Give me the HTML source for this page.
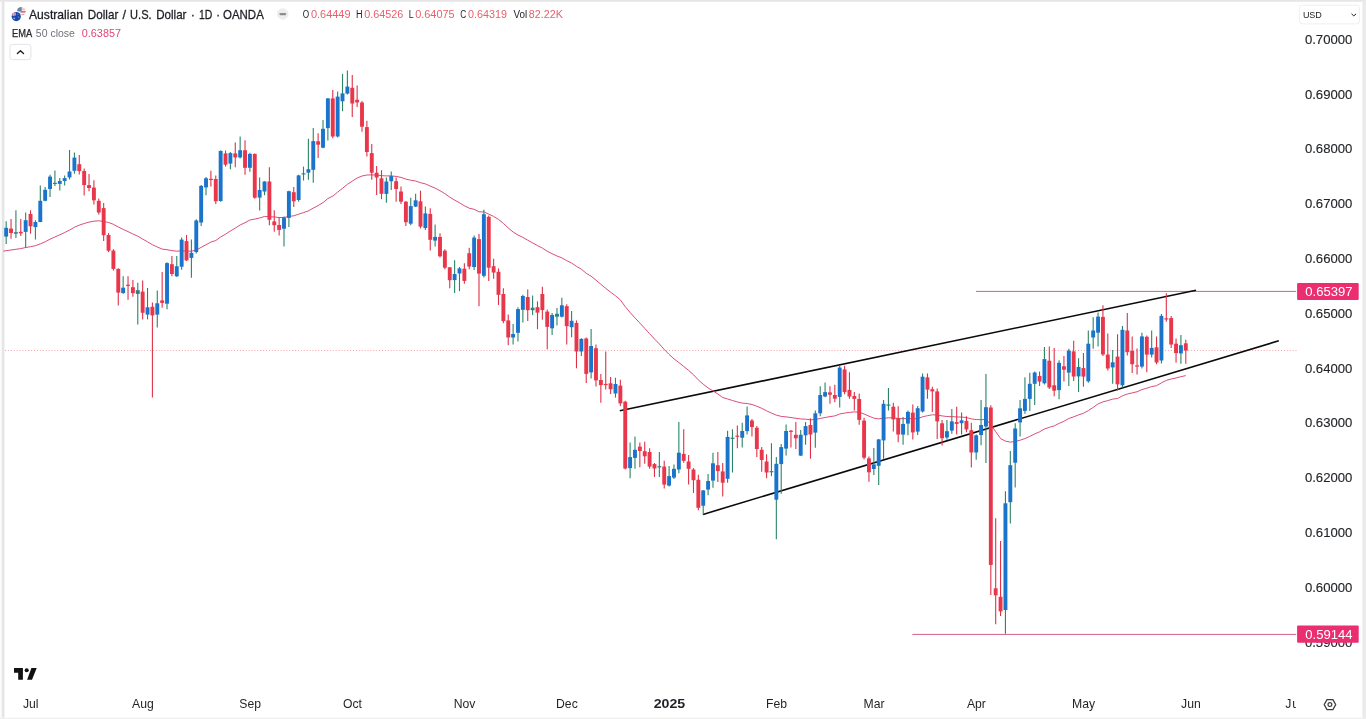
<!DOCTYPE html>
<html><head><meta charset="utf-8"><title>AUDUSD chart</title>
<style>
html,body{margin:0;padding:0;background:#fff;}
body{width:1366px;height:719px;overflow:hidden;position:relative;font-family:"Liberation Sans",sans-serif;}
svg{position:absolute;left:0;top:0;}
svg text{font-family:"Liberation Sans",sans-serif;}
</style></head><body>
<svg width="1366" height="719" viewBox="0 0 1366 719">
<rect x="0" y="0" width="1366" height="719" fill="#fff"/>
<!-- frame -->
<rect x="0" y="0" width="1366" height="1.8" fill="#e6e6e6"/>
<rect x="1.6" y="1.8" width="2.5" height="716" fill="#e5e5e5"/>
<rect x="4.1" y="1.8" width="0.8" height="716" fill="#f2f2f2"/>
<rect x="0" y="1.8" width="1.6" height="716" fill="#fbfbfb"/>
<rect x="1362.3" y="1.8" width="3.7" height="717.2" fill="#ebebeb"/>
<rect x="0" y="717.8" width="1366" height="1.2" fill="#efefef"/>
<!-- current price dotted -->
<line x1="5" x2="1296.5" y1="350.5" y2="350.5" stroke="#f19aa5" stroke-width="0.9" stroke-dasharray="1 1.9"/>
<!-- drawings -->
<line x1="912.4" x2="1296.2" y1="634.4" y2="634.4" stroke="#cf4d79" stroke-width="0.9"/>
<line x1="976" x2="1296.2" y1="291.4" y2="291.4" stroke="#cf4d79" stroke-width="0.9"/>
<line x1="619.8" y1="410.8" x2="1196" y2="290.3" stroke="#0a0a0a" stroke-width="1.6"/>
<line x1="703" y1="514.4" x2="1278.8" y2="340.8" stroke="#0a0a0a" stroke-width="1.6"/>
<path d="M3.4 251.1 L6.2 250.7 L11.0 250.0 L15.9 249.3 L20.8 248.6 L25.7 247.5 L30.5 246.7 L35.4 245.7 L40.3 243.9 L45.2 241.8 L50.0 239.2 L54.9 237.0 L59.8 234.8 L64.7 232.5 L69.5 230.1 L74.4 227.3 L79.3 225.1 L84.2 223.5 L89.0 222.1 L93.9 221.2 L98.8 220.8 L103.7 221.4 L108.5 222.5 L113.4 224.3 L118.3 227.0 L123.2 229.4 L128.0 231.6 L132.9 234.0 L137.8 236.2 L142.7 239.1 L147.5 241.8 L152.4 244.7 L157.3 247.0 L162.2 249.1 L167.0 249.7 L171.9 250.6 L176.8 251.2 L181.6 250.8 L186.5 251.1 L191.4 251.2 L196.3 250.0 L201.1 247.4 L206.0 244.7 L210.9 242.1 L215.8 240.5 L220.6 237.0 L225.5 234.2 L230.4 231.0 L235.3 228.1 L240.1 225.0 L245.0 222.7 L249.9 220.0 L254.8 219.1 L259.6 218.0 L264.5 216.5 L269.4 216.7 L274.3 217.0 L279.1 217.5 L284.0 217.5 L288.9 216.4 L293.8 215.8 L298.6 214.2 L303.5 212.6 L308.4 210.9 L313.3 208.1 L318.1 205.6 L323.0 202.6 L327.9 198.5 L332.8 196.1 L337.6 192.2 L342.5 188.3 L347.4 184.3 L352.3 181.1 L357.1 178.0 L362.0 176.0 L366.9 175.0 L371.8 174.9 L376.6 175.0 L381.5 175.7 L386.4 175.9 L391.3 175.9 L396.1 176.4 L401.0 177.4 L405.9 179.1 L410.7 180.2 L415.6 181.0 L420.5 182.7 L425.4 183.9 L430.2 186.1 L435.1 188.1 L440.0 190.7 L444.9 193.7 L449.7 197.1 L454.6 200.1 L459.5 202.8 L464.4 205.8 L469.2 208.2 L474.1 209.3 L479.0 211.8 L483.9 211.9 L488.7 214.1 L493.6 216.4 L498.5 219.4 L503.4 223.4 L508.2 227.9 L513.1 232.0 L518.0 235.0 L522.9 237.4 L527.7 240.2 L532.6 242.9 L537.5 245.6 L542.4 248.1 L547.2 251.2 L552.1 253.7 L557.0 256.0 L561.9 257.9 L566.7 260.6 L571.6 263.0 L576.5 266.4 L581.4 269.2 L586.2 273.3 L591.1 276.2 L596.0 280.2 L600.9 284.3 L605.7 288.3 L610.6 292.2 L615.5 295.8 L620.4 300.0 L625.2 306.6 L630.1 312.5 L635.0 317.9 L639.9 323.1 L644.7 328.3 L649.6 333.7 L654.5 339.0 L659.3 343.9 L664.2 349.4 L669.1 354.4 L674.0 358.9 L678.8 362.5 L683.7 366.4 L688.6 370.4 L693.5 374.7 L698.3 379.9 L703.2 384.2 L708.1 388.0 L713.0 390.9 L717.8 394.0 L722.7 397.5 L727.6 399.0 L732.5 400.5 L737.3 401.9 L742.2 403.1 L747.1 403.5 L752.0 404.5 L756.8 406.2 L761.7 408.3 L766.6 410.8 L771.5 413.1 L776.3 415.1 L781.2 416.4 L786.1 416.9 L791.0 417.5 L795.8 418.3 L800.7 418.9 L805.6 419.2 L810.5 419.8 L815.3 419.5 L820.2 418.5 L825.1 417.5 L830.0 416.6 L834.8 415.9 L839.7 414.0 L844.6 413.1 L849.5 412.4 L854.3 411.9 L859.2 412.2 L864.1 414.0 L869.0 416.2 L873.8 418.1 L878.7 418.9 L883.6 418.3 L888.5 417.8 L893.3 417.8 L898.2 418.5 L903.1 418.7 L907.9 418.4 L912.8 418.9 L917.7 418.5 L922.6 416.8 L927.4 415.7 L932.3 414.8 L937.2 415.0 L942.1 415.9 L946.9 416.5 L951.8 416.7 L956.7 416.9 L961.6 417.1 L966.4 417.5 L971.3 418.9 L976.2 419.5 L981.1 419.7 L985.9 419.2 L990.8 424.9 L995.7 431.6 L1000.6 438.6 L1005.4 441.1 L1010.3 442.1 L1015.2 441.5 L1020.1 440.2 L1024.9 438.6 L1029.8 436.4 L1034.7 433.9 L1039.6 431.8 L1044.4 429.0 L1049.3 427.3 L1054.2 425.9 L1059.1 423.4 L1063.9 421.3 L1068.8 418.5 L1073.7 416.8 L1078.6 414.9 L1083.4 413.3 L1088.3 410.6 L1093.2 407.4 L1098.1 403.9 L1102.9 401.9 L1107.8 400.6 L1112.7 399.1 L1117.6 398.5 L1122.4 395.8 L1127.3 394.0 L1132.2 392.9 L1137.0 391.8 L1141.9 389.6 L1146.8 388.2 L1151.7 386.6 L1156.5 385.7 L1161.4 382.9 L1166.3 380.4 L1171.2 379.0 L1176.0 378.0 L1180.9 376.7 L1185.8 375.6" fill="none" stroke="#d8456e" stroke-width="0.95" stroke-linejoin="round"/>
<g stroke-width="1.1"><line x1="6.17" x2="6.17" y1="221.3" y2="244.0" stroke="#2a8468"/><line x1="11.04" x2="11.04" y1="219.1" y2="238.8" stroke="#e03048"/><line x1="15.92" x2="15.92" y1="210.3" y2="238.1" stroke="#2a8468"/><line x1="20.79" x2="20.79" y1="219.1" y2="235.9" stroke="#e03048"/><line x1="25.66" x2="25.66" y1="212.5" y2="247.7" stroke="#2a8468"/><line x1="30.54" x2="30.54" y1="210.3" y2="233.7" stroke="#e03048"/><line x1="35.41" x2="35.41" y1="220.2" y2="239.6" stroke="#2a8468"/><line x1="40.29" x2="40.29" y1="185.4" y2="222.3" stroke="#2a8468"/><line x1="45.16" x2="45.16" y1="186.9" y2="201.2" stroke="#2a8468"/><line x1="50.04" x2="50.04" y1="174.8" y2="197.1" stroke="#2a8468"/><line x1="54.91" x2="54.91" y1="170.5" y2="186.1" stroke="#2a8468"/><line x1="59.79" x2="59.79" y1="178.1" y2="190.5" stroke="#2a8468"/><line x1="64.66" x2="64.66" y1="175.6" y2="185.4" stroke="#2a8468"/><line x1="69.53" x2="69.53" y1="150.0" y2="179.5" stroke="#2a8468"/><line x1="74.41" x2="74.41" y1="152.4" y2="173.7" stroke="#2a8468"/><line x1="79.28" x2="79.28" y1="155.1" y2="174.4" stroke="#e03048"/><line x1="84.16" x2="84.16" y1="168.6" y2="195.6" stroke="#e03048"/><line x1="89.03" x2="89.03" y1="174.1" y2="191.2" stroke="#e03048"/><line x1="93.91" x2="93.91" y1="180.3" y2="204.4" stroke="#e03048"/><line x1="98.78" x2="98.78" y1="198.6" y2="214.4" stroke="#e03048"/><line x1="103.66" x2="103.66" y1="203.0" y2="241.0" stroke="#e03048"/><line x1="108.53" x2="108.53" y1="233.1" y2="252.1" stroke="#e03048"/><line x1="113.41" x2="113.41" y1="249.2" y2="270.4" stroke="#e03048"/><line x1="118.28" x2="118.28" y1="268.2" y2="305.5" stroke="#e03048"/><line x1="123.15" x2="123.15" y1="276.2" y2="293.8" stroke="#2a8468"/><line x1="128.03" x2="128.03" y1="276.2" y2="299.7" stroke="#e03048"/><line x1="132.90" x2="132.90" y1="279.9" y2="296.7" stroke="#e03048"/><line x1="137.78" x2="137.78" y1="282.8" y2="324.6" stroke="#2a8468"/><line x1="142.65" x2="142.65" y1="280.6" y2="319.4" stroke="#e03048"/><line x1="147.53" x2="147.53" y1="288.0" y2="319.4" stroke="#2a8468"/><line x1="152.40" x2="152.40" y1="302.6" y2="397.4" stroke="#e03048"/><line x1="157.28" x2="157.28" y1="290.6" y2="327.5" stroke="#2a8468"/><line x1="162.15" x2="162.15" y1="272.1" y2="307.7" stroke="#e03048"/><line x1="167.02" x2="167.02" y1="262.3" y2="309.2" stroke="#2a8468"/><line x1="171.90" x2="171.90" y1="256.0" y2="276.2" stroke="#e03048"/><line x1="176.77" x2="176.77" y1="256.0" y2="277.0" stroke="#2a8468"/><line x1="181.65" x2="181.65" y1="237.4" y2="269.7" stroke="#2a8468"/><line x1="186.52" x2="186.52" y1="235.0" y2="260.9" stroke="#e03048"/><line x1="191.40" x2="191.40" y1="239.6" y2="277.7" stroke="#2a8468"/><line x1="196.27" x2="196.27" y1="219.3" y2="253.6" stroke="#2a8468"/><line x1="201.15" x2="201.15" y1="184.9" y2="225.9" stroke="#2a8468"/><line x1="206.02" x2="206.02" y1="176.9" y2="195.2" stroke="#2a8468"/><line x1="210.90" x2="210.90" y1="170.7" y2="186.4" stroke="#e03048"/><line x1="215.77" x2="215.77" y1="175.4" y2="203.9" stroke="#e03048"/><line x1="220.64" x2="220.64" y1="150.5" y2="201.7" stroke="#2a8468"/><line x1="225.52" x2="225.52" y1="150.5" y2="166.6" stroke="#e03048"/><line x1="230.39" x2="230.39" y1="152.0" y2="169.2" stroke="#2a8468"/><line x1="235.27" x2="235.27" y1="142.4" y2="167.3" stroke="#e03048"/><line x1="240.14" x2="240.14" y1="136.6" y2="158.6" stroke="#2a8468"/><line x1="245.02" x2="245.02" y1="140.2" y2="174.7" stroke="#e03048"/><line x1="249.89" x2="249.89" y1="152.7" y2="171.7" stroke="#2a8468"/><line x1="254.77" x2="254.77" y1="153.4" y2="198.8" stroke="#e03048"/><line x1="259.64" x2="259.64" y1="177.6" y2="210.5" stroke="#2a8468"/><line x1="264.51" x2="264.51" y1="181.2" y2="195.2" stroke="#2a8468"/><line x1="269.39" x2="269.39" y1="167.3" y2="225.3" stroke="#e03048"/><line x1="274.26" x2="274.26" y1="210.2" y2="231.8" stroke="#e03048"/><line x1="279.14" x2="279.14" y1="217.6" y2="235.5" stroke="#e03048"/><line x1="284.01" x2="284.01" y1="216.4" y2="246.5" stroke="#2a8468"/><line x1="288.89" x2="288.89" y1="190.8" y2="227.1" stroke="#2a8468"/><line x1="293.76" x2="293.76" y1="187.1" y2="206.9" stroke="#e03048"/><line x1="298.64" x2="298.64" y1="174.7" y2="201.7" stroke="#2a8468"/><line x1="303.51" x2="303.51" y1="166.6" y2="180.5" stroke="#2a8468"/><line x1="308.38" x2="308.38" y1="138.8" y2="179.8" stroke="#2a8468"/><line x1="313.26" x2="313.26" y1="128.1" y2="182.7" stroke="#2a8468"/><line x1="318.13" x2="318.13" y1="133.2" y2="158.1" stroke="#e03048"/><line x1="323.01" x2="323.01" y1="120.0" y2="148.3" stroke="#2a8468"/><line x1="327.88" x2="327.88" y1="98.1" y2="140.5" stroke="#2a8468"/><line x1="332.76" x2="332.76" y1="90.0" y2="138.3" stroke="#e03048"/><line x1="337.63" x2="337.63" y1="91.5" y2="137.6" stroke="#2a8468"/><line x1="342.51" x2="342.51" y1="73.9" y2="111.2" stroke="#2a8468"/><line x1="347.38" x2="347.38" y1="70.5" y2="94.4" stroke="#2a8468"/><line x1="352.26" x2="352.26" y1="75.1" y2="117.1" stroke="#e03048"/><line x1="357.13" x2="357.13" y1="85.6" y2="106.9" stroke="#e03048"/><line x1="362.00" x2="362.00" y1="101.0" y2="131.7" stroke="#e03048"/><line x1="366.88" x2="366.88" y1="120.8" y2="156.6" stroke="#e03048"/><line x1="371.75" x2="371.75" y1="143.9" y2="179.8" stroke="#e03048"/><line x1="376.63" x2="376.63" y1="165.9" y2="195.1" stroke="#e03048"/><line x1="381.50" x2="381.50" y1="170.2" y2="199.2" stroke="#e03048"/><line x1="386.38" x2="386.38" y1="177.6" y2="202.8" stroke="#2a8468"/><line x1="391.25" x2="391.25" y1="171.4" y2="190.0" stroke="#2a8468"/><line x1="396.13" x2="396.13" y1="177.6" y2="201.7" stroke="#e03048"/><line x1="401.00" x2="401.00" y1="186.4" y2="203.9" stroke="#e03048"/><line x1="405.88" x2="405.88" y1="201.0" y2="225.9" stroke="#e03048"/><line x1="410.75" x2="410.75" y1="197.8" y2="225.2" stroke="#2a8468"/><line x1="415.62" x2="415.62" y1="193.7" y2="206.9" stroke="#2a8468"/><line x1="420.50" x2="420.50" y1="190.7" y2="228.5" stroke="#e03048"/><line x1="425.37" x2="425.37" y1="206.6" y2="230.0" stroke="#2a8468"/><line x1="430.25" x2="430.25" y1="208.3" y2="250.5" stroke="#e03048"/><line x1="435.12" x2="435.12" y1="224.4" y2="246.4" stroke="#2a8468"/><line x1="440.00" x2="440.00" y1="233.2" y2="257.4" stroke="#e03048"/><line x1="444.87" x2="444.87" y1="249.3" y2="269.2" stroke="#e03048"/><line x1="449.75" x2="449.75" y1="267.0" y2="288.2" stroke="#e03048"/><line x1="454.62" x2="454.62" y1="260.3" y2="293.0" stroke="#2a8468"/><line x1="459.49" x2="459.49" y1="267.0" y2="291.1" stroke="#2a8468"/><line x1="464.37" x2="464.37" y1="263.3" y2="283.8" stroke="#e03048"/><line x1="469.24" x2="469.24" y1="247.8" y2="269.2" stroke="#e03048"/><line x1="474.12" x2="474.12" y1="235.4" y2="269.9" stroke="#2a8468"/><line x1="478.99" x2="478.99" y1="233.9" y2="306.2" stroke="#e03048"/><line x1="483.87" x2="483.87" y1="209.8" y2="277.5" stroke="#2a8468"/><line x1="488.74" x2="488.74" y1="215.6" y2="280.9" stroke="#e03048"/><line x1="493.62" x2="493.62" y1="258.8" y2="278.7" stroke="#e03048"/><line x1="498.49" x2="498.49" y1="268.4" y2="305.0" stroke="#e03048"/><line x1="503.37" x2="503.37" y1="288.2" y2="323.3" stroke="#e03048"/><line x1="508.24" x2="508.24" y1="314.5" y2="345.3" stroke="#e03048"/><line x1="513.11" x2="513.11" y1="324.1" y2="344.6" stroke="#2a8468"/><line x1="517.99" x2="517.99" y1="307.2" y2="341.6" stroke="#2a8468"/><line x1="522.86" x2="522.86" y1="294.8" y2="322.6" stroke="#2a8468"/><line x1="527.74" x2="527.74" y1="289.4" y2="321.1" stroke="#e03048"/><line x1="532.61" x2="532.61" y1="295.5" y2="315.0" stroke="#2a8468"/><line x1="537.49" x2="537.49" y1="301.4" y2="329.2" stroke="#e03048"/><line x1="542.36" x2="542.36" y1="286.7" y2="319.7" stroke="#e03048"/><line x1="547.24" x2="547.24" y1="309.4" y2="349.3" stroke="#e03048"/><line x1="552.11" x2="552.11" y1="313.1" y2="335.0" stroke="#2a8468"/><line x1="556.98" x2="556.98" y1="308.0" y2="325.5" stroke="#2a8468"/><line x1="561.86" x2="561.86" y1="297.7" y2="317.5" stroke="#2a8468"/><line x1="566.73" x2="566.73" y1="304.3" y2="344.6" stroke="#e03048"/><line x1="571.61" x2="571.61" y1="310.9" y2="337.2" stroke="#2a8468"/><line x1="576.48" x2="576.48" y1="320.4" y2="368.3" stroke="#e03048"/><line x1="581.36" x2="581.36" y1="338.3" y2="355.9" stroke="#2a8468"/><line x1="586.23" x2="586.23" y1="337.6" y2="383.0" stroke="#e03048"/><line x1="591.11" x2="591.11" y1="329.1" y2="378.6" stroke="#2a8468"/><line x1="595.98" x2="595.98" y1="344.6" y2="386.6" stroke="#e03048"/><line x1="600.86" x2="600.86" y1="373.9" y2="402.7" stroke="#e03048"/><line x1="605.73" x2="605.73" y1="351.5" y2="389.5" stroke="#e03048"/><line x1="610.60" x2="610.60" y1="377.1" y2="393.9" stroke="#e03048"/><line x1="615.48" x2="615.48" y1="377.8" y2="397.6" stroke="#2a8468"/><line x1="620.35" x2="620.35" y1="379.7" y2="405.9" stroke="#e03048"/><line x1="625.23" x2="625.23" y1="400.7" y2="469.5" stroke="#e03048"/><line x1="630.10" x2="630.10" y1="442.5" y2="478.3" stroke="#2a8468"/><line x1="634.98" x2="634.98" y1="436.6" y2="468.8" stroke="#2a8468"/><line x1="639.85" x2="639.85" y1="442.5" y2="467.3" stroke="#e03048"/><line x1="644.73" x2="644.73" y1="441.7" y2="463.7" stroke="#e03048"/><line x1="649.60" x2="649.60" y1="448.3" y2="468.8" stroke="#e03048"/><line x1="654.47" x2="654.47" y1="463.0" y2="476.9" stroke="#e03048"/><line x1="659.35" x2="659.35" y1="452.0" y2="476.9" stroke="#2a8468"/><line x1="664.22" x2="664.22" y1="460.8" y2="488.6" stroke="#e03048"/><line x1="669.10" x2="669.10" y1="465.9" y2="486.4" stroke="#2a8468"/><line x1="673.97" x2="673.97" y1="464.4" y2="479.1" stroke="#2a8468"/><line x1="678.85" x2="678.85" y1="422.0" y2="473.2" stroke="#2a8468"/><line x1="683.72" x2="683.72" y1="429.3" y2="462.7" stroke="#e03048"/><line x1="688.60" x2="688.60" y1="454.9" y2="484.6" stroke="#e03048"/><line x1="693.47" x2="693.47" y1="468.1" y2="493.0" stroke="#e03048"/><line x1="698.35" x2="698.35" y1="474.7" y2="510.3" stroke="#e03048"/><line x1="703.22" x2="703.22" y1="490.0" y2="514.4" stroke="#2a8468"/><line x1="708.09" x2="708.09" y1="473.9" y2="495.2" stroke="#2a8468"/><line x1="712.97" x2="712.97" y1="452.7" y2="487.8" stroke="#2a8468"/><line x1="717.84" x2="717.84" y1="452.0" y2="482.0" stroke="#e03048"/><line x1="722.72" x2="722.72" y1="463.0" y2="496.6" stroke="#e03048"/><line x1="727.59" x2="727.59" y1="430.7" y2="482.7" stroke="#2a8468"/><line x1="732.47" x2="732.47" y1="429.3" y2="472.5" stroke="#2a8468"/><line x1="737.34" x2="737.34" y1="425.6" y2="448.3" stroke="#e03048"/><line x1="742.22" x2="742.22" y1="422.7" y2="447.6" stroke="#2a8468"/><line x1="747.09" x2="747.09" y1="406.6" y2="434.4" stroke="#2a8468"/><line x1="751.96" x2="751.96" y1="419.0" y2="436.6" stroke="#e03048"/><line x1="756.84" x2="756.84" y1="426.1" y2="457.1" stroke="#e03048"/><line x1="761.71" x2="761.71" y1="446.9" y2="471.7" stroke="#e03048"/><line x1="766.59" x2="766.59" y1="454.2" y2="478.3" stroke="#e03048"/><line x1="771.46" x2="771.46" y1="443.2" y2="476.1" stroke="#2a8468"/><line x1="776.34" x2="776.34" y1="457.1" y2="539.3" stroke="#2a8468"/><line x1="781.21" x2="781.21" y1="443.9" y2="493.7" stroke="#2a8468"/><line x1="786.09" x2="786.09" y1="424.6" y2="455.6" stroke="#2a8468"/><line x1="790.96" x2="790.96" y1="430.0" y2="447.6" stroke="#e03048"/><line x1="795.84" x2="795.84" y1="422.0" y2="449.0" stroke="#e03048"/><line x1="800.71" x2="800.71" y1="430.0" y2="455.9" stroke="#2a8468"/><line x1="805.58" x2="805.58" y1="422.0" y2="444.7" stroke="#2a8468"/><line x1="810.46" x2="810.46" y1="418.4" y2="458.7" stroke="#e03048"/><line x1="815.33" x2="815.33" y1="410.4" y2="447.7" stroke="#2a8468"/><line x1="820.21" x2="820.21" y1="386.2" y2="416.2" stroke="#2a8468"/><line x1="825.08" x2="825.08" y1="382.6" y2="397.2" stroke="#2a8468"/><line x1="829.96" x2="829.96" y1="386.2" y2="403.8" stroke="#e03048"/><line x1="834.83" x2="834.83" y1="384.8" y2="402.3" stroke="#e03048"/><line x1="839.71" x2="839.71" y1="365.7" y2="407.5" stroke="#2a8468"/><line x1="844.58" x2="844.58" y1="365.7" y2="394.3" stroke="#e03048"/><line x1="849.45" x2="849.45" y1="372.3" y2="398.7" stroke="#e03048"/><line x1="854.33" x2="854.33" y1="392.1" y2="410.4" stroke="#e03048"/><line x1="859.20" x2="859.20" y1="393.6" y2="424.7" stroke="#e03048"/><line x1="864.08" x2="864.08" y1="417.7" y2="459.4" stroke="#e03048"/><line x1="868.95" x2="868.95" y1="456.5" y2="481.7" stroke="#e03048"/><line x1="873.83" x2="873.83" y1="448.1" y2="475.1" stroke="#2a8468"/><line x1="878.70" x2="878.70" y1="438.9" y2="485.1" stroke="#2a8468"/><line x1="883.58" x2="883.58" y1="400.1" y2="458.7" stroke="#2a8468"/><line x1="888.45" x2="888.45" y1="388.1" y2="410.4" stroke="#2a8468"/><line x1="893.33" x2="893.33" y1="402.8" y2="431.6" stroke="#e03048"/><line x1="898.20" x2="898.20" y1="406.3" y2="442.3" stroke="#e03048"/><line x1="903.07" x2="903.07" y1="417.0" y2="444.8" stroke="#2a8468"/><line x1="907.95" x2="907.95" y1="410.4" y2="435.3" stroke="#2a8468"/><line x1="912.82" x2="912.82" y1="404.5" y2="439.4" stroke="#e03048"/><line x1="917.70" x2="917.70" y1="406.0" y2="435.0" stroke="#2a8468"/><line x1="922.57" x2="922.57" y1="373.5" y2="412.6" stroke="#2a8468"/><line x1="927.45" x2="927.45" y1="373.5" y2="398.7" stroke="#e03048"/><line x1="932.32" x2="932.32" y1="386.7" y2="411.9" stroke="#e03048"/><line x1="937.20" x2="937.20" y1="388.4" y2="438.9" stroke="#e03048"/><line x1="942.07" x2="942.07" y1="419.9" y2="445.5" stroke="#e03048"/><line x1="946.94" x2="946.94" y1="419.9" y2="439.7" stroke="#2a8468"/><line x1="951.82" x2="951.82" y1="408.9" y2="433.8" stroke="#2a8468"/><line x1="956.69" x2="956.69" y1="406.7" y2="434.5" stroke="#e03048"/><line x1="961.57" x2="961.57" y1="412.6" y2="434.5" stroke="#2a8468"/><line x1="966.44" x2="966.44" y1="416.2" y2="432.3" stroke="#e03048"/><line x1="971.32" x2="971.32" y1="422.8" y2="467.5" stroke="#e03048"/><line x1="976.19" x2="976.19" y1="434.5" y2="459.8" stroke="#2a8468"/><line x1="981.07" x2="981.07" y1="400.1" y2="445.2" stroke="#2a8468"/><line x1="985.94" x2="985.94" y1="374.1" y2="463.1" stroke="#2a8468"/><line x1="990.82" x2="990.82" y1="405.3" y2="594.9" stroke="#e03048"/><line x1="995.69" x2="995.69" y1="518.3" y2="624.2" stroke="#e03048"/><line x1="1000.56" x2="1000.56" y1="541.0" y2="616.1" stroke="#e03048"/><line x1="1005.44" x2="1005.44" y1="491.2" y2="633.7" stroke="#2a8468"/><line x1="1010.31" x2="1010.31" y1="451.0" y2="523.5" stroke="#2a8468"/><line x1="1015.19" x2="1015.19" y1="423.3" y2="487.6" stroke="#2a8468"/><line x1="1020.06" x2="1020.06" y1="399.9" y2="436.5" stroke="#2a8468"/><line x1="1024.94" x2="1024.94" y1="377.2" y2="413.8" stroke="#2a8468"/><line x1="1029.81" x2="1029.81" y1="372.8" y2="410.9" stroke="#2a8468"/><line x1="1034.69" x2="1034.69" y1="371.4" y2="405.0" stroke="#2a8468"/><line x1="1039.56" x2="1039.56" y1="371.4" y2="386.0" stroke="#e03048"/><line x1="1044.43" x2="1044.43" y1="347.1" y2="384.5" stroke="#2a8468"/><line x1="1049.31" x2="1049.31" y1="346.6" y2="388.9" stroke="#e03048"/><line x1="1054.18" x2="1054.18" y1="348.1" y2="396.2" stroke="#e03048"/><line x1="1059.06" x2="1059.06" y1="360.2" y2="399.2" stroke="#2a8468"/><line x1="1063.93" x2="1063.93" y1="356.1" y2="381.6" stroke="#e03048"/><line x1="1068.81" x2="1068.81" y1="348.7" y2="386.0" stroke="#2a8468"/><line x1="1073.68" x2="1073.68" y1="340.8" y2="381.0" stroke="#e03048"/><line x1="1078.56" x2="1078.56" y1="358.2" y2="391.9" stroke="#2a8468"/><line x1="1083.43" x2="1083.43" y1="353.1" y2="386.7" stroke="#e03048"/><line x1="1088.31" x2="1088.31" y1="330.5" y2="382.8" stroke="#2a8468"/><line x1="1093.18" x2="1093.18" y1="317.3" y2="348.8" stroke="#2a8468"/><line x1="1098.05" x2="1098.05" y1="312.5" y2="346.6" stroke="#2a8468"/><line x1="1102.93" x2="1102.93" y1="305.2" y2="356.1" stroke="#e03048"/><line x1="1107.80" x2="1107.80" y1="333.4" y2="370.6" stroke="#e03048"/><line x1="1112.68" x2="1112.68" y1="350.1" y2="383.8" stroke="#2a8468"/><line x1="1117.55" x2="1117.55" y1="334.2" y2="390.4" stroke="#e03048"/><line x1="1122.43" x2="1122.43" y1="326.1" y2="387.5" stroke="#2a8468"/><line x1="1127.30" x2="1127.30" y1="312.9" y2="355.4" stroke="#e03048"/><line x1="1132.18" x2="1132.18" y1="336.4" y2="373.0" stroke="#e03048"/><line x1="1137.05" x2="1137.05" y1="348.5" y2="374.4" stroke="#e03048"/><line x1="1141.92" x2="1141.92" y1="332.7" y2="368.6" stroke="#2a8468"/><line x1="1146.80" x2="1146.80" y1="335.6" y2="372.2" stroke="#e03048"/><line x1="1151.67" x2="1151.67" y1="330.5" y2="357.6" stroke="#2a8468"/><line x1="1156.55" x2="1156.55" y1="336.4" y2="364.2" stroke="#e03048"/><line x1="1161.42" x2="1161.42" y1="314.0" y2="363.5" stroke="#2a8468"/><line x1="1166.30" x2="1166.30" y1="293.2" y2="321.7" stroke="#e03048"/><line x1="1171.17" x2="1171.17" y1="315.9" y2="348.1" stroke="#e03048"/><line x1="1176.05" x2="1176.05" y1="338.6" y2="362.7" stroke="#e03048"/><line x1="1180.92" x2="1180.92" y1="334.9" y2="363.7" stroke="#2a8468"/><line x1="1185.80" x2="1185.80" y1="339.7" y2="363.7" stroke="#e03048"/></g><g><rect x="4.22" y="227.8" width="3.9" height="8.8" fill="#1b74cc"/><rect x="9.09" y="228.6" width="3.9" height="4.4" fill="#e8364a"/><rect x="13.97" y="232.2" width="3.9" height="1.5" fill="#2f7f8a"/><rect x="18.84" y="231.8" width="3.9" height="1.5" fill="#e8364a"/><rect x="23.71" y="220.2" width="3.9" height="11.7" fill="#1b74cc"/><rect x="28.59" y="213.9" width="3.9" height="12.4" fill="#e8364a"/><rect x="33.46" y="222.0" width="3.9" height="5.1" fill="#1b74cc"/><rect x="38.34" y="200.8" width="3.9" height="21.2" fill="#1b74cc"/><rect x="43.21" y="189.8" width="3.9" height="11.0" fill="#1b74cc"/><rect x="48.09" y="176.6" width="3.9" height="12.4" fill="#1b74cc"/><rect x="52.96" y="182.8" width="3.9" height="1.2" fill="#2f7f8a"/><rect x="57.84" y="181.0" width="3.9" height="2.9" fill="#1b74cc"/><rect x="62.71" y="178.1" width="3.9" height="2.9" fill="#1b74cc"/><rect x="67.58" y="171.5" width="3.9" height="5.9" fill="#1b74cc"/><rect x="72.46" y="157.6" width="3.9" height="13.2" fill="#1b74cc"/><rect x="77.33" y="164.2" width="3.9" height="6.9" fill="#e8364a"/><rect x="82.21" y="171.0" width="3.9" height="14.1" fill="#e8364a"/><rect x="87.08" y="185.1" width="3.9" height="2.9" fill="#e8364a"/><rect x="91.96" y="187.6" width="3.9" height="12.7" fill="#e8364a"/><rect x="96.83" y="200.8" width="3.9" height="11.7" fill="#e8364a"/><rect x="101.71" y="208.1" width="3.9" height="27.1" fill="#e8364a"/><rect x="106.58" y="235.0" width="3.9" height="15.7" fill="#e8364a"/><rect x="111.45" y="250.6" width="3.9" height="18.3" fill="#e8364a"/><rect x="116.33" y="268.9" width="3.9" height="23.7" fill="#e8364a"/><rect x="121.20" y="287.7" width="3.9" height="5.4" fill="#1b74cc"/><rect x="126.08" y="284.7" width="3.9" height="1.2" fill="#e8364a"/><rect x="130.95" y="287.2" width="3.9" height="5.9" fill="#e8364a"/><rect x="135.83" y="290.2" width="3.9" height="3.7" fill="#2f7f8a"/><rect x="140.70" y="291.6" width="3.9" height="21.2" fill="#e8364a"/><rect x="145.58" y="307.3" width="3.9" height="7.3" fill="#1b74cc"/><rect x="150.45" y="306.8" width="3.9" height="8.6" fill="#e8364a"/><rect x="155.33" y="303.3" width="3.9" height="11.3" fill="#1b74cc"/><rect x="160.20" y="300.4" width="3.9" height="2.5" fill="#e8364a"/><rect x="165.07" y="263.1" width="3.9" height="40.6" fill="#1b74cc"/><rect x="169.95" y="264.2" width="3.9" height="9.8" fill="#e8364a"/><rect x="174.82" y="266.3" width="3.9" height="10.0" fill="#1b74cc"/><rect x="179.70" y="239.6" width="3.9" height="27.1" fill="#1b74cc"/><rect x="184.57" y="241.1" width="3.9" height="19.3" fill="#e8364a"/><rect x="189.45" y="252.8" width="3.9" height="5.1" fill="#1b74cc"/><rect x="194.32" y="220.5" width="3.9" height="31.6" fill="#1b74cc"/><rect x="199.20" y="185.9" width="3.9" height="36.6" fill="#1b74cc"/><rect x="204.07" y="178.3" width="3.9" height="9.1" fill="#1b74cc"/><rect x="208.95" y="178.8" width="3.9" height="1.2" fill="#e8364a"/><rect x="213.82" y="179.0" width="3.9" height="22.3" fill="#e8364a"/><rect x="218.69" y="150.9" width="3.9" height="50.1" fill="#1b74cc"/><rect x="223.57" y="153.4" width="3.9" height="11.3" fill="#e8364a"/><rect x="228.44" y="153.1" width="3.9" height="10.5" fill="#1b74cc"/><rect x="233.32" y="153.4" width="3.9" height="4.0" fill="#e8364a"/><rect x="238.19" y="150.2" width="3.9" height="7.2" fill="#1b74cc"/><rect x="243.07" y="150.2" width="3.9" height="17.6" fill="#e8364a"/><rect x="247.94" y="153.9" width="3.9" height="13.9" fill="#1b74cc"/><rect x="252.82" y="153.9" width="3.9" height="43.8" fill="#e8364a"/><rect x="257.69" y="190.0" width="3.9" height="7.6" fill="#1b74cc"/><rect x="262.56" y="181.5" width="3.9" height="10.0" fill="#1b74cc"/><rect x="267.44" y="181.5" width="3.9" height="38.3" fill="#e8364a"/><rect x="272.31" y="221.4" width="3.9" height="3.8" fill="#e8364a"/><rect x="277.19" y="225.0" width="3.9" height="4.9" fill="#e8364a"/><rect x="282.06" y="217.7" width="3.9" height="11.0" fill="#1b74cc"/><rect x="286.94" y="191.2" width="3.9" height="26.7" fill="#1b74cc"/><rect x="291.81" y="192.2" width="3.9" height="9.1" fill="#e8364a"/><rect x="296.69" y="175.4" width="3.9" height="24.6" fill="#1b74cc"/><rect x="301.56" y="173.3" width="3.9" height="1.2" fill="#2f7f8a"/><rect x="306.44" y="169.2" width="3.9" height="3.5" fill="#1b74cc"/><rect x="311.31" y="141.1" width="3.9" height="28.7" fill="#1b74cc"/><rect x="316.18" y="141.3" width="3.9" height="3.4" fill="#e8364a"/><rect x="321.06" y="128.8" width="3.9" height="18.9" fill="#1b74cc"/><rect x="325.93" y="98.4" width="3.9" height="29.7" fill="#1b74cc"/><rect x="330.81" y="98.4" width="3.9" height="38.1" fill="#e8364a"/><rect x="335.68" y="96.6" width="3.9" height="39.9" fill="#1b74cc"/><rect x="340.56" y="93.4" width="3.9" height="7.9" fill="#1b74cc"/><rect x="345.43" y="86.6" width="3.9" height="7.0" fill="#1b74cc"/><rect x="350.31" y="87.8" width="3.9" height="15.7" fill="#e8364a"/><rect x="355.18" y="99.8" width="3.9" height="2.6" fill="#e8364a"/><rect x="360.05" y="102.5" width="3.9" height="24.2" fill="#e8364a"/><rect x="364.93" y="127.1" width="3.9" height="24.9" fill="#e8364a"/><rect x="369.80" y="153.1" width="3.9" height="19.6" fill="#e8364a"/><rect x="374.68" y="172.7" width="3.9" height="4.8" fill="#e8364a"/><rect x="379.55" y="178.3" width="3.9" height="15.5" fill="#e8364a"/><rect x="384.43" y="181.5" width="3.9" height="12.4" fill="#1b74cc"/><rect x="389.30" y="176.1" width="3.9" height="5.1" fill="#1b74cc"/><rect x="394.18" y="181.2" width="3.9" height="7.8" fill="#e8364a"/><rect x="399.05" y="191.5" width="3.9" height="10.2" fill="#e8364a"/><rect x="403.93" y="201.7" width="3.9" height="20.5" fill="#e8364a"/><rect x="408.80" y="206.1" width="3.9" height="17.6" fill="#1b74cc"/><rect x="413.67" y="200.3" width="3.9" height="6.3" fill="#1b74cc"/><rect x="418.55" y="201.3" width="3.9" height="25.3" fill="#e8364a"/><rect x="423.42" y="213.4" width="3.9" height="14.6" fill="#1b74cc"/><rect x="428.30" y="213.9" width="3.9" height="25.9" fill="#e8364a"/><rect x="433.17" y="236.9" width="3.9" height="3.7" fill="#1b74cc"/><rect x="438.05" y="236.9" width="3.9" height="19.4" fill="#e8364a"/><rect x="442.92" y="250.7" width="3.9" height="17.0" fill="#e8364a"/><rect x="447.80" y="267.3" width="3.9" height="12.9" fill="#e8364a"/><rect x="452.67" y="274.0" width="3.9" height="6.1" fill="#1b74cc"/><rect x="457.54" y="268.4" width="3.9" height="5.1" fill="#1b74cc"/><rect x="462.42" y="268.7" width="3.9" height="12.2" fill="#e8364a"/><rect x="467.29" y="253.2" width="3.9" height="13.4" fill="#e8364a"/><rect x="472.17" y="237.6" width="3.9" height="29.4" fill="#1b74cc"/><rect x="477.04" y="239.1" width="3.9" height="34.5" fill="#e8364a"/><rect x="481.92" y="214.2" width="3.9" height="61.6" fill="#1b74cc"/><rect x="486.79" y="216.8" width="3.9" height="50.9" fill="#e8364a"/><rect x="491.67" y="266.2" width="3.9" height="6.3" fill="#e8364a"/><rect x="496.54" y="271.8" width="3.9" height="23.0" fill="#e8364a"/><rect x="501.42" y="294.0" width="3.9" height="27.1" fill="#e8364a"/><rect x="506.29" y="320.4" width="3.9" height="17.1" fill="#e8364a"/><rect x="511.16" y="334.0" width="3.9" height="3.5" fill="#1b74cc"/><rect x="516.04" y="309.1" width="3.9" height="23.7" fill="#1b74cc"/><rect x="520.91" y="296.0" width="3.9" height="13.8" fill="#1b74cc"/><rect x="525.79" y="297.0" width="3.9" height="13.2" fill="#e8364a"/><rect x="530.66" y="307.7" width="3.9" height="2.5" fill="#2f7f8a"/><rect x="535.54" y="307.2" width="3.9" height="5.4" fill="#e8364a"/><rect x="540.41" y="294.0" width="3.9" height="16.1" fill="#e8364a"/><rect x="545.29" y="311.6" width="3.9" height="15.3" fill="#e8364a"/><rect x="550.16" y="315.0" width="3.9" height="13.3" fill="#1b74cc"/><rect x="555.03" y="313.8" width="3.9" height="2.9" fill="#2f7f8a"/><rect x="559.91" y="305.3" width="3.9" height="11.4" fill="#1b74cc"/><rect x="564.78" y="306.2" width="3.9" height="20.0" fill="#e8364a"/><rect x="569.66" y="320.8" width="3.9" height="6.4" fill="#1b74cc"/><rect x="574.53" y="322.9" width="3.9" height="28.6" fill="#e8364a"/><rect x="579.41" y="338.9" width="3.9" height="12.6" fill="#1b74cc"/><rect x="584.28" y="338.5" width="3.9" height="35.4" fill="#e8364a"/><rect x="589.16" y="346.0" width="3.9" height="26.4" fill="#1b74cc"/><rect x="594.03" y="348.2" width="3.9" height="32.2" fill="#e8364a"/><rect x="598.91" y="380.0" width="3.9" height="5.1" fill="#e8364a"/><rect x="603.78" y="383.9" width="3.9" height="1.2" fill="#e8364a"/><rect x="608.65" y="383.3" width="3.9" height="5.9" fill="#e8364a"/><rect x="613.53" y="384.0" width="3.9" height="9.5" fill="#1b74cc"/><rect x="618.40" y="385.6" width="3.9" height="17.8" fill="#e8364a"/><rect x="623.28" y="401.7" width="3.9" height="66.8" fill="#e8364a"/><rect x="628.15" y="457.1" width="3.9" height="11.0" fill="#1b74cc"/><rect x="633.03" y="449.8" width="3.9" height="8.1" fill="#1b74cc"/><rect x="637.90" y="446.6" width="3.9" height="4.4" fill="#e8364a"/><rect x="642.78" y="451.2" width="3.9" height="5.1" fill="#e8364a"/><rect x="647.65" y="452.0" width="3.9" height="14.6" fill="#e8364a"/><rect x="652.52" y="464.1" width="3.9" height="4.4" fill="#e8364a"/><rect x="657.40" y="466.2" width="3.9" height="1.2" fill="#2f7f8a"/><rect x="662.27" y="466.6" width="3.9" height="18.0" fill="#e8364a"/><rect x="667.15" y="476.1" width="3.9" height="9.5" fill="#1b74cc"/><rect x="672.02" y="468.8" width="3.9" height="8.8" fill="#1b74cc"/><rect x="676.90" y="452.7" width="3.9" height="16.8" fill="#1b74cc"/><rect x="681.77" y="453.9" width="3.9" height="6.9" fill="#e8364a"/><rect x="686.65" y="461.5" width="3.9" height="7.3" fill="#e8364a"/><rect x="691.52" y="469.5" width="3.9" height="10.7" fill="#e8364a"/><rect x="696.40" y="479.8" width="3.9" height="28.0" fill="#e8364a"/><rect x="701.27" y="490.4" width="3.9" height="15.3" fill="#1b74cc"/><rect x="706.14" y="481.0" width="3.9" height="8.6" fill="#1b74cc"/><rect x="711.02" y="463.3" width="3.9" height="17.3" fill="#1b74cc"/><rect x="715.89" y="465.2" width="3.9" height="5.9" fill="#e8364a"/><rect x="720.77" y="471.4" width="3.9" height="11.3" fill="#e8364a"/><rect x="725.64" y="436.9" width="3.9" height="41.9" fill="#1b74cc"/><rect x="730.52" y="437.7" width="3.9" height="1.2" fill="#2f7f8a"/><rect x="735.39" y="435.6" width="3.9" height="1.2" fill="#e8364a"/><rect x="740.27" y="431.0" width="3.9" height="6.7" fill="#1b74cc"/><rect x="745.14" y="415.4" width="3.9" height="15.7" fill="#1b74cc"/><rect x="750.01" y="420.5" width="3.9" height="6.6" fill="#e8364a"/><rect x="754.89" y="427.8" width="3.9" height="21.2" fill="#e8364a"/><rect x="759.76" y="449.8" width="3.9" height="10.2" fill="#e8364a"/><rect x="764.64" y="461.5" width="3.9" height="11.0" fill="#e8364a"/><rect x="769.51" y="471.1" width="3.9" height="1.2" fill="#2f7f8a"/><rect x="774.39" y="463.8" width="3.9" height="35.9" fill="#1b74cc"/><rect x="779.26" y="447.1" width="3.9" height="17.0" fill="#1b74cc"/><rect x="784.14" y="431.0" width="3.9" height="17.6" fill="#1b74cc"/><rect x="789.01" y="430.7" width="3.9" height="1.2" fill="#e8364a"/><rect x="793.89" y="434.8" width="3.9" height="3.5" fill="#e8364a"/><rect x="798.76" y="434.8" width="3.9" height="20.8" fill="#1b74cc"/><rect x="803.63" y="426.1" width="3.9" height="9.2" fill="#1b74cc"/><rect x="808.51" y="425.0" width="3.9" height="9.5" fill="#e8364a"/><rect x="813.38" y="413.3" width="3.9" height="19.3" fill="#1b74cc"/><rect x="818.26" y="395.0" width="3.9" height="18.3" fill="#1b74cc"/><rect x="823.13" y="392.1" width="3.9" height="4.4" fill="#1b74cc"/><rect x="828.01" y="392.4" width="3.9" height="2.3" fill="#e8364a"/><rect x="832.88" y="395.0" width="3.9" height="3.7" fill="#e8364a"/><rect x="837.76" y="367.6" width="3.9" height="29.3" fill="#1b74cc"/><rect x="842.63" y="369.4" width="3.9" height="22.7" fill="#e8364a"/><rect x="847.50" y="389.9" width="3.9" height="6.6" fill="#e8364a"/><rect x="852.38" y="396.0" width="3.9" height="2.9" fill="#e8364a"/><rect x="857.25" y="399.0" width="3.9" height="20.9" fill="#e8364a"/><rect x="862.13" y="420.6" width="3.9" height="37.1" fill="#e8364a"/><rect x="867.00" y="458.4" width="3.9" height="13.9" fill="#e8364a"/><rect x="871.88" y="464.4" width="3.9" height="4.6" fill="#1b74cc"/><rect x="876.75" y="439.4" width="3.9" height="26.4" fill="#1b74cc"/><rect x="881.63" y="403.8" width="3.9" height="36.6" fill="#1b74cc"/><rect x="886.50" y="404.5" width="3.9" height="1.2" fill="#2f7f8a"/><rect x="891.38" y="406.7" width="3.9" height="12.7" fill="#e8364a"/><rect x="896.25" y="418.0" width="3.9" height="16.5" fill="#e8364a"/><rect x="901.12" y="423.9" width="3.9" height="10.7" fill="#1b74cc"/><rect x="906.00" y="411.9" width="3.9" height="11.7" fill="#1b74cc"/><rect x="910.87" y="412.6" width="3.9" height="19.8" fill="#e8364a"/><rect x="915.75" y="408.2" width="3.9" height="23.4" fill="#1b74cc"/><rect x="920.62" y="376.7" width="3.9" height="34.8" fill="#1b74cc"/><rect x="925.50" y="377.4" width="3.9" height="12.2" fill="#e8364a"/><rect x="930.37" y="389.2" width="3.9" height="2.2" fill="#e8364a"/><rect x="935.25" y="391.4" width="3.9" height="30.0" fill="#e8364a"/><rect x="940.12" y="423.3" width="3.9" height="14.9" fill="#e8364a"/><rect x="944.99" y="431.2" width="3.9" height="6.3" fill="#1b74cc"/><rect x="949.87" y="421.4" width="3.9" height="9.2" fill="#1b74cc"/><rect x="954.74" y="422.1" width="3.9" height="1.8" fill="#e8364a"/><rect x="959.62" y="420.3" width="3.9" height="2.9" fill="#1b74cc"/><rect x="964.49" y="420.9" width="3.9" height="8.5" fill="#e8364a"/><rect x="969.37" y="430.2" width="3.9" height="22.3" fill="#e8364a"/><rect x="974.24" y="435.3" width="3.9" height="17.2" fill="#1b74cc"/><rect x="979.12" y="425.0" width="3.9" height="10.0" fill="#1b74cc"/><rect x="983.99" y="407.2" width="3.9" height="19.3" fill="#1b74cc"/><rect x="988.87" y="407.5" width="3.9" height="157.4" fill="#e8364a"/><rect x="993.74" y="588.3" width="3.9" height="7.0" fill="#e8364a"/><rect x="998.61" y="596.8" width="3.9" height="14.6" fill="#e8364a"/><rect x="1003.49" y="503.3" width="3.9" height="106.7" fill="#1b74cc"/><rect x="1008.36" y="465.2" width="3.9" height="37.0" fill="#1b74cc"/><rect x="1013.24" y="428.5" width="3.9" height="34.2" fill="#1b74cc"/><rect x="1018.11" y="408.3" width="3.9" height="14.1" fill="#1b74cc"/><rect x="1022.99" y="398.9" width="3.9" height="12.0" fill="#1b74cc"/><rect x="1027.86" y="383.8" width="3.9" height="15.1" fill="#1b74cc"/><rect x="1032.74" y="372.5" width="3.9" height="11.3" fill="#1b74cc"/><rect x="1037.61" y="376.0" width="3.9" height="5.6" fill="#e8364a"/><rect x="1042.48" y="359.1" width="3.9" height="24.2" fill="#1b74cc"/><rect x="1047.36" y="360.7" width="3.9" height="26.8" fill="#e8364a"/><rect x="1052.23" y="385.3" width="3.9" height="5.4" fill="#e8364a"/><rect x="1057.11" y="362.8" width="3.9" height="27.3" fill="#1b74cc"/><rect x="1061.98" y="366.3" width="3.9" height="3.4" fill="#e8364a"/><rect x="1066.86" y="350.6" width="3.9" height="22.0" fill="#1b74cc"/><rect x="1071.73" y="351.4" width="3.9" height="25.1" fill="#e8364a"/><rect x="1076.61" y="367.0" width="3.9" height="9.4" fill="#1b74cc"/><rect x="1081.48" y="368.1" width="3.9" height="8.5" fill="#e8364a"/><rect x="1086.36" y="343.7" width="3.9" height="37.6" fill="#1b74cc"/><rect x="1091.23" y="330.5" width="3.9" height="7.0" fill="#1b74cc"/><rect x="1096.10" y="316.6" width="3.9" height="16.1" fill="#1b74cc"/><rect x="1100.98" y="316.9" width="3.9" height="37.6" fill="#e8364a"/><rect x="1105.85" y="354.6" width="3.9" height="13.9" fill="#e8364a"/><rect x="1110.73" y="362.3" width="3.9" height="5.1" fill="#1b74cc"/><rect x="1115.60" y="356.6" width="3.9" height="27.7" fill="#e8364a"/><rect x="1120.48" y="329.8" width="3.9" height="55.5" fill="#1b74cc"/><rect x="1125.35" y="330.5" width="3.9" height="21.7" fill="#e8364a"/><rect x="1130.23" y="350.9" width="3.9" height="13.3" fill="#e8364a"/><rect x="1135.10" y="365.4" width="3.9" height="1.2" fill="#e8364a"/><rect x="1139.97" y="336.4" width="3.9" height="30.2" fill="#1b74cc"/><rect x="1144.85" y="336.8" width="3.9" height="17.8" fill="#e8364a"/><rect x="1149.72" y="347.9" width="3.9" height="6.7" fill="#1b74cc"/><rect x="1154.60" y="347.3" width="3.9" height="15.2" fill="#e8364a"/><rect x="1159.47" y="315.9" width="3.9" height="44.6" fill="#1b74cc"/><rect x="1164.35" y="318.3" width="3.9" height="1.2" fill="#e8364a"/><rect x="1169.22" y="318.1" width="3.9" height="26.4" fill="#e8364a"/><rect x="1174.10" y="343.7" width="3.9" height="9.4" fill="#e8364a"/><rect x="1178.97" y="345.2" width="3.9" height="8.2" fill="#1b74cc"/><rect x="1183.85" y="343.3" width="3.9" height="7.3" fill="#e8364a"/></g>
<!-- price axis -->
<g font-size="12.2" fill="#1f2226" stroke="#1f2226" stroke-width="0.12"><text x="1304.9" y="646.5" textLength="47.5" lengthAdjust="spacingAndGlyphs">0.59000</text><text x="1304.9" y="591.7" textLength="47.5" lengthAdjust="spacingAndGlyphs">0.60000</text><text x="1304.9" y="536.9" textLength="47.5" lengthAdjust="spacingAndGlyphs">0.61000</text><text x="1304.9" y="482.1" textLength="47.5" lengthAdjust="spacingAndGlyphs">0.62000</text><text x="1304.9" y="427.3" textLength="47.5" lengthAdjust="spacingAndGlyphs">0.63000</text><text x="1304.9" y="372.5" textLength="47.5" lengthAdjust="spacingAndGlyphs">0.64000</text><text x="1304.9" y="317.7" textLength="47.5" lengthAdjust="spacingAndGlyphs">0.65000</text><text x="1304.9" y="262.9" textLength="47.5" lengthAdjust="spacingAndGlyphs">0.66000</text><text x="1304.9" y="208.1" textLength="47.5" lengthAdjust="spacingAndGlyphs">0.67000</text><text x="1304.9" y="153.3" textLength="47.5" lengthAdjust="spacingAndGlyphs">0.68000</text><text x="1304.9" y="98.5" textLength="47.5" lengthAdjust="spacingAndGlyphs">0.69000</text><text x="1304.9" y="43.7" textLength="47.5" lengthAdjust="spacingAndGlyphs">0.70000</text></g>
<rect x="1297.1" y="282.9" width="61.6" height="17.2" rx="1" fill="#ea2e70"/>
<text x="1305.3" y="296.0" font-size="12.2" fill="#fff" textLength="47.2" lengthAdjust="spacingAndGlyphs">0.65397</text>
<rect x="1297.1" y="625.5" width="61.6" height="17.2" rx="1" fill="#ea2e70"/>
<text x="1305.3" y="638.9" font-size="12.2" fill="#fff" textLength="47.2" lengthAdjust="spacingAndGlyphs">0.59144</text>
<!-- time axis -->
<g font-size="12.2" fill="#1f2226"><text x="30.7" y="707.9" text-anchor="middle">Jul</text><text x="142.9" y="707.9" text-anchor="middle">Aug</text><text x="250.1" y="707.9" text-anchor="middle">Sep</text><text x="352.5" y="707.9" text-anchor="middle">Oct</text><text x="464.6" y="707.9" text-anchor="middle">Nov</text><text x="566.9" y="707.9" text-anchor="middle">Dec</text><text x="776.5" y="707.9" text-anchor="middle">Feb</text><text x="874.0" y="707.9" text-anchor="middle">Mar</text><text x="976.4" y="707.9" text-anchor="middle">Apr</text><text x="1083.6" y="707.9" text-anchor="middle">May</text><text x="1190.9" y="707.9" text-anchor="middle">Jun</text><text x="669.5" y="707.9" text-anchor="middle" font-weight="bold" textLength="31.6" lengthAdjust="spacingAndGlyphs">2025</text></g>
<g font-size="12.2" fill="#1f2226"><clipPath id="cj"><rect x="1270" y="690" width="25.9" height="29"/></clipPath><text x="1285.3" y="707.9" letter-spacing="0.9" clip-path="url(#cj)">Jul</text></g>
<!-- gear -->
<g fill="none" stroke="#3a3d42" stroke-width="1.2"><path d="M1324.2 704.6 L1327 699.6 L1332.9 699.6 L1335.7 704.6 L1332.9 709.6 L1327 709.6 Z" stroke-linejoin="round"/><circle cx="1329.9" cy="704.6" r="1.9"/></g>
<!-- TV logo -->
<g fill="#111"><path d="M14 667.9 H22.9 V679.7 H18.2 V672.8 H14 Z"/><circle cx="26.7" cy="670.3" r="2.05"/><path d="M31.4 667.9 H36.7 L32 679.7 H27.1 Z"/></g>
<!-- header -->
<g>
<clipPath id="us"><circle cx="21.3" cy="11.3" r="4.3"/></clipPath>
<g clip-path="url(#us)"><rect x="16" y="6" width="11" height="11" fill="#fdf3f3"/><rect x="21.5" y="7.7" width="6" height="0.9" fill="#f0b4b8"/><rect x="21.5" y="9.4" width="6" height="0.9" fill="#eeaab0"/><rect x="20.5" y="11.2" width="7" height="1.4" fill="#cc565d"/><rect x="16" y="14.1" width="11" height="1.3" fill="#e88f98"/><rect x="16" y="6" width="5.7" height="5.5" fill="#5d88b0"/></g>
<circle cx="16.25" cy="16.6" r="5.5" fill="#fff"/>
<clipPath id="au"><circle cx="16.25" cy="16.6" r="4.6"/></clipPath>
<g clip-path="url(#au)"><rect x="11" y="11" width="11" height="11" fill="#1c47a8"/><rect x="11" y="12.4" width="5" height="3.2" fill="#c98aa8"/><rect x="13.2" y="11.5" width="0.9" height="4.6" fill="#e7b6c6"/><circle cx="14.2" cy="18.4" r="0.8" fill="#a9c0ee"/><circle cx="18.6" cy="17.2" r="0.6" fill="#88a6e2"/><circle cx="17.8" cy="14.2" r="0.5" fill="#88a6e2"/></g>
</g>
<g font-size="12.6" fill="#1c1f24" stroke="#1c1f24" stroke-width="0.28">
<text x="29" y="18.8" textLength="54" lengthAdjust="spacingAndGlyphs">Australian</text><text x="87.8" y="18.8" textLength="30.5" lengthAdjust="spacingAndGlyphs">Dollar</text><text x="122.4" y="18.8">/</text><text x="130.1" y="18.8" textLength="21.5" lengthAdjust="spacingAndGlyphs">U.S.</text><text x="156.2" y="18.8" textLength="30.3" lengthAdjust="spacingAndGlyphs">Dollar</text><text x="190.8" y="18.8">·</text><text x="199" y="18.8" textLength="13.4" lengthAdjust="spacingAndGlyphs">1D</text><text x="215.9" y="18.8">·</text><text x="223" y="18.8" textLength="40.8" lengthAdjust="spacingAndGlyphs">OANDA</text>
</g>
<circle cx="282.7" cy="14" r="5.8" fill="#ededee"/>
<rect x="279.3" y="12.9" width="7" height="2.3" rx="1.1" fill="#8b8e94"/>
<g font-size="10">
<text x="302.8" y="17.95" fill="#1c1f24" textLength="6.4" lengthAdjust="spacingAndGlyphs">O</text><text x="310.9" y="17.95" fill="#e8606e" textLength="39.7" lengthAdjust="spacingAndGlyphs">0.64449</text>
<text x="356.1" y="17.95" fill="#1c1f24" textLength="6.6" lengthAdjust="spacingAndGlyphs">H</text><text x="364.2" y="17.95" fill="#e8606e" textLength="39" lengthAdjust="spacingAndGlyphs">0.64526</text>
<text x="408.8" y="17.95" fill="#1c1f24" textLength="4.9" lengthAdjust="spacingAndGlyphs">L</text><text x="415.2" y="17.95" fill="#e8606e" textLength="39.5" lengthAdjust="spacingAndGlyphs">0.64075</text>
<text x="460.3" y="17.95" fill="#1c1f24" textLength="6" lengthAdjust="spacingAndGlyphs">C</text><text x="468" y="17.95" fill="#e8606e" textLength="39" lengthAdjust="spacingAndGlyphs">0.64319</text>
<text x="513.5" y="17.95" fill="#1c1f24" textLength="13.7" lengthAdjust="spacingAndGlyphs">Vol</text><text x="528.8" y="17.95" fill="#e8606e" textLength="34.1" lengthAdjust="spacingAndGlyphs">82.22K</text>
</g>
<g font-size="10.2">
<text x="12" y="36.7" fill="#24272c" stroke="#24272c" stroke-width="0.25" textLength="20.2" lengthAdjust="spacingAndGlyphs">EMA</text><text x="35.8" y="36.7" fill="#6f7278" textLength="39.1" lengthAdjust="spacingAndGlyphs">50 close</text><text x="81.8" y="36.7" fill="#e0457a" textLength="39.2" lengthAdjust="spacingAndGlyphs">0.63857</text>
</g>
<rect x="9.9" y="44.4" width="21" height="15.3" rx="2.5" fill="#fff" stroke="#e3e4e6" stroke-width="1"/>
<path d="M17.4 53.5 L20.45 50.8 L23.5 53.5" fill="none" stroke="#1c1f24" stroke-width="1.4" stroke-linecap="round" stroke-linejoin="round"/>
<rect x="1299.6" y="5.1" width="59.8" height="18.8" rx="3" fill="#fff" stroke="#efeff0" stroke-width="1"/>
<text x="1303" y="18.3" font-size="9" fill="#1c1f24" textLength="18.7">USD</text>
<path d="M1351.8 14.1 L1353.8 15.9 L1355.8 14.1" fill="none" stroke="#1c1f24" stroke-width="1" stroke-linecap="round" stroke-linejoin="round"/>
</svg>
</body></html>
